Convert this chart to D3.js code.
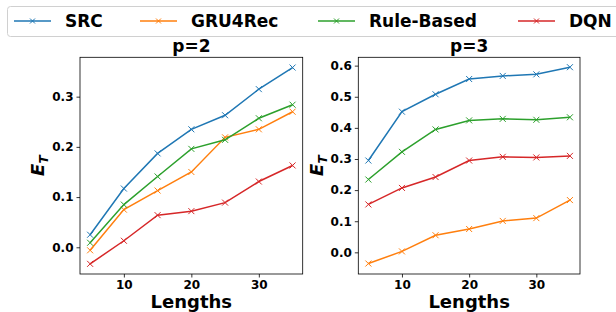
<!DOCTYPE html>
<html>
<head>
<meta charset="utf-8">
<script src="https://cdn.jsdelivr.net/npm/d3@7"></script>
<style>
  body { margin: 0; background: #fff; }
  svg { font-family: "DejaVu Sans", sans-serif; font-weight: bold; }
</style>
</head>
<body>
<svg id="chart" width="616" height="312"></svg>
<script>
// data
var lengths = [5, 10, 15, 20, 25, 30, 35];
var seriesNames = ['SRC', 'GRU4Rec', 'Rule-Based', 'DQN'];
var colors = ['#1f77b4', '#ff7f0e', '#2ca02c', '#d62728'];

// p=2
var srcP2 = [0.025, 0.117, 0.187, 0.235, 0.263, 0.315, 0.358];
var gruP2 = [-0.006, 0.075, 0.113, 0.150, 0.219, 0.235, 0.270];
var ruleP2 = [0.009, 0.085, 0.141, 0.196, 0.214, 0.257, 0.284];
var dqnP2 = [-0.033, 0.013, 0.064, 0.072, 0.089, 0.131, 0.163];

// p=3
var srcP3 = [0.295, 0.452, 0.508, 0.557, 0.567, 0.572, 0.595];
var gruP3 = [-0.036, 0.003, 0.055, 0.075, 0.101, 0.110, 0.168];
var ruleP3 = [0.234, 0.323, 0.395, 0.424, 0.429, 0.426, 0.434];
var dqnP3 = [0.154, 0.207, 0.242, 0.295, 0.307, 0.305, 0.310];

var xTicks = [10, 20, 30];
var yTicksP2 = [0.0, 0.1, 0.2, 0.3];
var yTicksP3 = [0.0, 0.1, 0.2, 0.3, 0.4, 0.5, 0.6];

var svg = d3.select('#chart');

function drawPanel(opts) {
  var left = opts.left, right = opts.right, top = 57.3, bottom = 274;
  var x = d3.scaleLinear().domain([3.5, 36.5]).range([left, right]);
  var y = d3.scaleLinear().domain(opts.yDomain).range([bottom, top]);
  var g = svg.append('g');

  // x axis
  var xa = g.append('g').attr('transform', 'translate(0,' + bottom + ')')
    .call(d3.axisBottom(x).tickValues(xTicks).tickSize(3.5).tickPadding(3).tickFormat(d3.format('d')));
  // y axis
  var ya = g.append('g').attr('transform', 'translate(' + left + ',0)')
    .call(d3.axisLeft(y).tickValues(opts.yTicks).tickSize(3.5).tickPadding(3).tickFormat(d3.format('.1f')));
  [xa, ya].forEach(function(a) {
    a.select('.domain').remove();
    a.selectAll('text').style('font-size', '12px').style('font-family', '"DejaVu Sans", sans-serif')
      .style('font-weight', 'bold').attr('fill', '#000');
    a.selectAll('line').attr('stroke', '#000').attr('stroke-width', 0.8);
  });

  // lines
  var line = d3.line().x(function(d, i) { return x(lengths[i]); }).y(function(d) { return y(d); });
  opts.series.forEach(function(vals, si) {
    g.append('path').datum(vals).attr('d', line)
      .attr('fill', 'none').attr('stroke', colors[si]).attr('stroke-width', 1.5);
    g.selectAll(null).data(vals).enter().append('path')
      .attr('transform', function(d, i) { return 'translate(' + x(lengths[i]) + ',' + y(d) + ')'; })
      .attr('d', 'M-3,-3L3,3M-3,3L3,-3')
      .attr('stroke', colors[si]).attr('stroke-width', 1).attr('fill', 'none');
  });

  // frame
  g.append('rect').attr('x', left).attr('y', top).attr('width', right - left).attr('height', bottom - top)
    .attr('fill', 'none').attr('stroke', '#000').attr('stroke-width', 0.8);

  // title
  g.append('text').attr('x', (left + right) / 2).attr('y', 52).attr('text-anchor', 'middle')
    .style('font-size', '17px').text(opts.title);
  // x label
  g.append('text').attr('x', (left + right) / 2).attr('y', 308).attr('text-anchor', 'middle')
    .style('font-size', '18px').text('Lengths');
  // y label
  var yl = g.append('text').attr('transform', 'translate(' + opts.ylabelX + ',' + (top + bottom) / 2 + ') rotate(-90)')
    .attr('text-anchor', 'middle').style('font-size', '18px').style('font-style', 'italic');
  yl.append('tspan').text('E');
  yl.append('tspan').attr('dy', 4).style('font-size', '12px').text('T');
}

drawPanel({
  left: 80, right: 302.7, title: 'p=2', ylabelX: 44,
  yDomain: [-0.0532, 0.3784], yTicks: yTicksP2,
  series: [srcP2, gruP2, ruleP2, dqnP2]
});
drawPanel({
  left: 358.3, right: 580, title: 'p=3', ylabelX: 323,
  yDomain: [-0.0696, 0.6268], yTicks: yTicksP3,
  series: [srcP3, gruP3, ruleP3, dqnP3]
});

// legend
var legend = svg.append('g');
legend.append('rect').attr('x', 7.5).attr('y', 6.5).attr('width', 640).attr('height', 30).attr('rx', 3)
  .attr('fill', '#fff').attr('stroke', '#d0d0d0').attr('stroke-width', 1);
var legendX = [14, 140, 318, 518];
seriesNames.forEach(function(name, i) {
  var lx = legendX[i], ly = 21;
  legend.append('line').attr('x1', lx).attr('x2', lx + 37).attr('y1', ly).attr('y2', ly)
    .attr('stroke', colors[i]).attr('stroke-width', 1.5);
  legend.append('path').attr('transform', 'translate(' + (lx + 18.5) + ',' + ly + ')')
    .attr('d', 'M-2.5,-2.5L2.5,2.5M-2.5,2.5L2.5,-2.5').attr('stroke', colors[i]).attr('stroke-width', 1);
  legend.append('text').attr('x', lx + 51).attr('y', ly + 6).style('font-size', '17px').text(name);
});
</script>
</body>
</html>
